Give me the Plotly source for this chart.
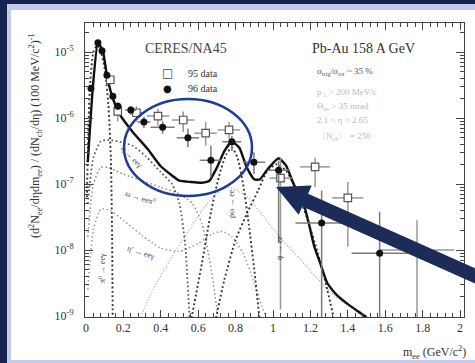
import numpy as np
import plotly.graph_objects as go

# ---------------- data (y given as log10 values) ----------------
x_tick_vals = [0, 0.2, 0.4, 0.6, 0.8, 1, 1.2, 1.4, 1.6, 1.8, 2]
x_tick_text = ["0", "0.2", "0.4", "0.6", "0.8", "1", "1.2", "1.4", "1.6", "1.8", "2"]
y_tick_exp = [-9, -8, -7, -6, -5]

legend_names = ["95 data", "96 data"]

# 95 data (open squares)
d95_x = [0.13, 0.17, 0.27, 0.385, 0.52, 0.64, 0.765, 1.04, 1.225, 1.40, 1.77]
d95_xerr = [0.015, 0.02, 0.04, 0.06, 0.06, 0.06, 0.06, 0.06, 0.08, 0.083, 0.2]
d95_logy = [-5.42, -5.90, -5.92, -5.97, -6.03, -6.23, -6.18, -6.91, -6.74, -7.21, -8.00]
d95_loghi = [-5.35, -5.78, -5.82, -5.86, -5.90, -6.06, -6.06, -6.60, -6.60, -6.97, -7.55]
d95_loglo = [-5.50, -6.05, -6.05, -6.12, -6.21, -6.42, -6.32, -8.90, -7.05, -7.95, -9.50]

# 96 data (filled circles)
d96_x = [0.027, 0.064, 0.086, 0.112, 0.144, 0.171, 0.24, 0.31, 0.41, 0.545, 0.668, 0.78, 0.898, 1.03, 1.26, 1.57]
d96_xerr = [0.01, 0.01, 0.01, 0.012, 0.015, 0.02, 0.03, 0.035, 0.065, 0.06, 0.06, 0.05, 0.06, 0.06, 0.14, 0.15]
d96_logy = [-5.55, -4.86, -4.98, -5.35, -5.67, -5.82, -5.88, -6.06, -6.14, -6.30, -6.64, -6.36, -6.67, -6.79, -7.59, -8.05]
d96_loghi = [-5.50, -4.83, -4.95, -5.31, -5.62, -5.76, -5.82, -5.98, -6.05, -6.16, -6.42, -6.27, -6.52, -6.65, -7.10, -7.42]
d96_loglo = [-5.60, -4.89, -5.01, -5.39, -5.72, -5.88, -5.95, -6.15, -6.24, -6.44, -6.90, -6.50, -6.85, -7.88, -9.50, -9.50]

# cocktail sum (thick solid)
tot_x = [0.01, 0.037, 0.064, 0.09, 0.112, 0.14, 0.18, 0.25, 0.33, 0.40, 0.46, 0.50, 0.56, 0.62, 0.66, 0.70,
         0.74, 0.78, 0.82, 0.86, 0.90, 0.93, 0.97, 1.03, 1.07, 1.11, 1.16, 1.19, 1.22, 1.25, 1.29, 1.34,
         1.40, 1.45, 1.50]
tot_logy = [-6.67, -5.53, -4.86, -4.98, -5.35, -5.67, -5.94, -6.21, -6.47, -6.73, -6.87, -6.95, -6.97, -6.98,
            -6.95, -6.75, -6.50, -6.36, -6.45, -6.75, -6.93, -6.93, -6.78, -6.61, -6.72, -7.00, -7.26, -7.58,
            -7.94, -8.18, -8.50, -8.68, -8.82, -8.92, -9.02]

# components (dotted)
pi0_x = [0.005, 0.02, 0.04, 0.06, 0.08, 0.10, 0.12, 0.133, 0.14, 0.143]
pi0_logy = [-7.2, -5.6, -5.0, -4.9, -5.0, -5.25, -5.8, -6.6, -7.8, -9.1]

eta_x = [0.01, 0.04, 0.08, 0.12, 0.18, 0.25, 0.32, 0.40, 0.46, 0.50, 0.53, 0.555]
eta_logy = [-7.3, -6.6, -6.35, -6.33, -6.36, -6.42, -6.58, -6.82, -7.0, -7.3, -7.9, -9.1]

omegaD_x = [0.01, 0.04, 0.08, 0.12, 0.20, 0.30, 0.40, 0.50, 0.57, 0.62, 0.67, 0.71]
omegaD_logy = [-7.8, -7.0, -6.75, -6.75, -6.85, -6.95, -7.05, -7.15, -7.3, -7.6, -8.3, -9.1]

etap_x = [0.01, 0.04, 0.08, 0.13, 0.20, 0.30, 0.40, 0.50, 0.60, 0.68, 0.73, 0.78, 0.84, 0.90, 0.94, 0.975]
etap_logy = [-8.6, -7.7, -7.38, -7.4, -7.55, -7.78, -7.97, -8.02, -7.9, -7.75, -7.72, -7.8, -8.05, -8.5, -8.85, -9.1]

rho_x = [0.28, 0.35, 0.45, 0.55, 0.62, 0.68, 0.72, 0.76, 0.80, 0.87, 0.95, 1.05, 1.15, 1.24, 1.33, 1.42, 1.50]
rho_logy = [-9.1, -8.65, -8.15, -7.7, -7.4, -7.2, -7.1, -7.05, -7.08, -7.22, -7.5, -7.85, -8.15, -8.44, -8.7, -8.88, -9.05]

omega_x = [0.56, 0.62, 0.67, 0.71, 0.75, 0.78, 0.81, 0.84, 0.87, 0.90, 0.93]
omega_logy = [-9.1, -8.2, -7.4, -6.9, -6.55, -6.45, -6.6, -7.0, -7.6, -8.3, -9.1]

phi_x = [0.69, 0.74, 0.80, 0.86, 0.92, 0.97, 1.02, 1.07, 1.12, 1.18, 1.24, 1.29, 1.33]
phi_logy = [-9.1, -8.45, -7.85, -7.45, -7.1, -6.8, -6.7, -6.8, -7.05, -7.5, -8.05, -8.6, -9.1]

# ---------------- figure ----------------
W, H = 475, 363
L, R, T, B = 85, 11, 23, 46
PW, PH = W - L - R, H - T - B


def px(x):
    return (x - L) / PW


def py(y):
    return (H - B - y) / PH


def pw(a):
    return 10 ** np.asarray(a, dtype=float)


fig = go.Figure()

curve_styles = [
    (rho_x, rho_logy, "#a0a0a0", 1.2, "1px,2px"),
    (etap_x, etap_logy, "#9a9a9a", 1.5, "1.5px,2.5px"),
    (omegaD_x, omegaD_logy, "#8a8a8a", 1.5, "1.5px,2.5px"),
    (eta_x, eta_logy, "#555555", 1.7, "1.7px,2.5px"),
    (pi0_x, pi0_logy, "#333333", 1.9, "1.9px,2.5px"),
    (omega_x, omega_logy, "#333333", 1.9, "1.9px,2.5px"),
    (phi_x, phi_logy, "#333333", 1.9, "1.9px,2.5px"),
]
for cx, cy, col, w, dash in curve_styles:
    fig.add_trace(go.Scatter(x=cx, y=pw(cy), mode="lines", showlegend=False, hoverinfo="skip",
                             line=dict(color=col, width=w, dash=dash, shape="spline", smoothing=0.6)))

fig.add_trace(go.Scatter(x=tot_x, y=pw(tot_logy), mode="lines", showlegend=False, hoverinfo="skip",
                         line=dict(color="#111111", width=2.4, shape="spline", smoothing=0.5)))

y95 = pw(d95_logy)
fig.add_trace(go.Scatter(
    x=d95_x, y=y95, mode="markers", name=legend_names[0], showlegend=False,
    marker=dict(symbol="square", size=7.5, color="white", line=dict(color="#555555", width=1.2)),
    error_x=dict(type="data", array=d95_xerr, color="#999999", thickness=1.5, width=0),
    error_y=dict(type="data", symmetric=False, array=pw(d95_loghi) - y95, arrayminus=y95 - pw(d95_loglo),
                 color="#999999", thickness=1.5, width=0),
))
y96 = pw(d96_logy)
fig.add_trace(go.Scatter(
    x=d96_x, y=y96, mode="markers", name=legend_names[1], showlegend=False,
    marker=dict(symbol="circle", size=7, color="#111111"),
    error_x=dict(type="data", array=d96_xerr, color="#7a7a7a", thickness=1.5, width=0),
    error_y=dict(type="data", symmetric=False, array=pw(d96_loghi) - y96, arrayminus=y96 - pw(d96_loglo),
                 color="#7a7a7a", thickness=1.5, width=0),
))

serif = "Liberation Serif"
axcol = "#444444"
minor_y = [k * 10.0 ** e for e in range(-10, -4) for k in range(2, 10)]

fig.update_layout(
    width=W, height=H, margin=dict(l=L, r=R, t=T, b=B),
    paper_bgcolor="#15244d", plot_bgcolor="white",
    font=dict(family=serif, size=12, color="#333333"),
    showlegend=False,
    xaxis=dict(range=[-0.005, 2.021], tickmode="array", tickvals=x_tick_vals, ticktext=x_tick_text,
               showline=True, linecolor=axcol, linewidth=1, mirror="allticks", ticks="inside",
               ticklen=7, tickcolor=axcol, showgrid=False, zeroline=False,
               tickfont=dict(family=serif, size=12, color="#333333"),
               minor=dict(tickmode="linear", tick0=0, dtick=0.04, ticks="inside", ticklen=4,
                          tickcolor=axcol, showgrid=False)),
    yaxis=dict(type="log", range=[-9.015, -4.56], tickmode="array",
               tickvals=[10.0 ** e for e in y_tick_exp],
               ticktext=["10<sup>%d</sup>" % e for e in y_tick_exp],
               showline=True, linecolor=axcol, linewidth=1, mirror="allticks", ticks="inside",
               ticklen=8, tickcolor=axcol, showgrid=False, zeroline=False, ticklabelstandoff=8,
               tickfont=dict(family=serif, size=12, color="#333333"),
               minor=dict(tickmode="array", tickvals=minor_y, ticks="inside", ticklen=4,
                          tickcolor=axcol, showgrid=False)),
)

shapes = [
    dict(type="rect", xref="paper", yref="paper", x0=px(7), x1=px(485), y0=py(370), y1=py(4),
         fillcolor="#c2caf0", line=dict(width=0), layer="below"),
    dict(type="rect", xref="paper", yref="paper", x0=px(11), x1=px(485), y0=py(360), y1=py(10),
         fillcolor="white", line=dict(width=0), layer="below"),
    dict(type="circle", xref="paper", yref="paper", x0=px(124), x1=px(252), y0=py(196), y1=py(99),
         line=dict(color="#1f3d96", width=2.5), layer="above"),
]

# arrow polygon (pixel geometry -> paper)
tip = np.array([276.0, 187.0])
tail = np.array([482.0, 279.0])
u = (tip - tail) / np.linalg.norm(tip - tail)
n = np.array([-u[1], u[0]])
Lh, Hh, Sh = 32.0, 16.0, 7.0
base = tip - u * Lh
pts = [tip, base + n * Hh, base + n * Sh, tail + n * Sh, tail - n * Sh, base - n * Sh, base - n * Hh]
path = "M " + " L ".join("%.5f,%.5f" % (px(p[0]), py(p[1])) for p in pts) + " Z"
shapes.append(dict(type="path", xref="paper", yref="paper", path=path, fillcolor="#1c2b57",
                   line=dict(width=0), layer="above"))
fig.update_layout(shapes=shapes)

ann = []


def add_text(text, x, y, size, color, xanchor="center", angle=0, family=serif):
    ann.append(dict(text=text, x=px(x), y=py(y), xref="paper", yref="paper", showarrow=False,
                    xanchor=xanchor, yanchor="middle", textangle=angle,
                    font=dict(family=family, size=size, color=color)))


# legend drawn as text
add_text("□", 167, 73, 12, "#444444", family="DejaVu Sans")
add_text(legend_names[0], 186, 73, 10, "#333333", "left")
add_text("●", 167, 88, 10, "#111111", family="DejaVu Sans")
add_text(legend_names[1], 186, 88, 10, "#333333", "left")

add_text("CERES/NA45", 186, 48, 14, "#444444")
add_text("Pb-Au 158 A GeV", 363, 48, 14, "#333333")
add_text("σ<sub>trig</sub>/σ<sub>tot</sub> ~ 35 %", 315, 72, 9, "#555555", "left")
add_text("p<sub>⊥</sub> > 200 MeV/c", 315, 92, 9, "#bbbbbb", "left")
add_text("Θ<sub>ee</sub> > 35 mrad", 315, 106, 9, "#bbbbbb", "left")
add_text("2.1 < η < 2.65", 315, 120, 9, "#bbbbbb", "left")
add_text("〈N<sub>ch</sub>〉 = 250", 315, 136, 9, "#bbbbbb", "left")

add_text("η → eeγ", 131, 157, 8, "#444444", angle=45)
add_text("ω → eeπ<sup>0</sup>", 140, 197, 8, "#444444", angle=18)
add_text("η' → eeγ", 141, 252, 8, "#444444", angle=18)
add_text("π<sup>0</sup> → eeγ", 102, 268, 8, "#444444", angle=-90)
add_text("ρω → ee", 231, 204, 8, "#444444", angle=-90)
add_text("φ → ee", 279, 248, 8, "#444444", angle=-90)

add_text("(d<sup>2</sup>N<sub>ee</sub>/dηdm<sub>ee</sub>) / (dN<sub>ch</sub>/dη) (100 MeV/c<sup>2</sup>)<sup>-1</sup>",
         35, 136, 12, "#333333", angle=-90)
add_text("m<sub>ee</sub> (GeV/c<sup>2</sup>)", 468, 352, 12, "#333333", "right")

fig.update_layout(annotations=ann)

fig.write_html("out.html")
